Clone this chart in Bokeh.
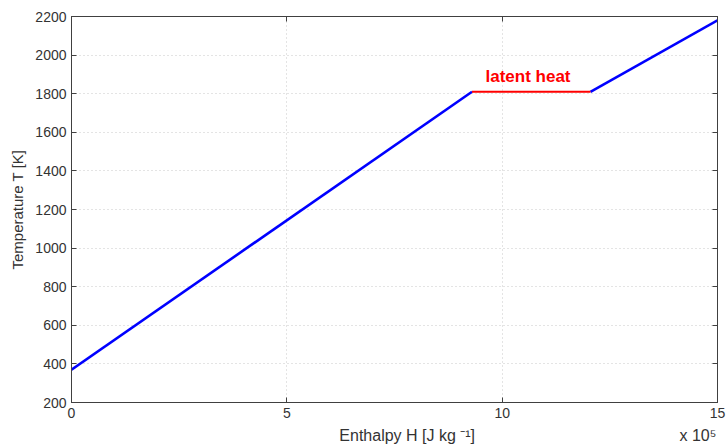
from bokeh.plotting import figure
from bokeh.models import LinearAxis, FixedTicker, Label, Range1d
from bokeh.embed import file_html
from bokeh.resources import INLINE

# Data (enthalpy in units of 1e5 J/kg, temperature in K)
H = [0.0, 9.3, 12.05, 15.0]
T = [370, 1810, 1810, 2180]
x_ticks = [0, 5, 10, 15]
y_ticks = [200, 400, 600, 800, 1000, 1200, 1400, 1600, 1800, 2000, 2200]
x_label = "Enthalpy H [J kg ⁻¹]"
x_scale_label = "x 10⁵"
y_label = "Temperature T [K]"

FONT = "Liberation Sans"
AXC = "#404040"
TXC = "#333333"
NB = "\u00a0"

p = figure(width=726, height=447, output_backend="svg", toolbar_location=None,
           x_range=Range1d(0, 15), y_range=Range1d(200, 2200),
           min_border_left=71, min_border_right=9, min_border_top=16, min_border_bottom=45,
           background_fill_color="white", border_fill_color="white")
p.outline_line_color = AXC
p.outline_line_width = 1

for ax in [p.xaxis[0], p.yaxis[0]]:
    ax.major_tick_in = 5
    ax.major_tick_out = 0
    ax.minor_tick_in = 0
    ax.minor_tick_out = 0
    ax.axis_line_color = AXC
    ax.major_tick_line_color = AXC
    ax.major_label_text_font = FONT
    ax.major_label_text_font_size = "14px"
    ax.major_label_text_color = TXC
    ax.axis_label_text_font = FONT
    ax.axis_label_text_font_style = "normal"
    ax.axis_label_text_color = TXC

p.xaxis[0].ticker = FixedTicker(ticks=x_ticks)
p.yaxis[0].ticker = FixedTicker(ticks=y_ticks)
# x label shifted right of centre, with the "x 10^5" multiplier at the right end
p.xaxis[0].axis_label = NB * 60 + x_label + NB * 46 + x_scale_label
p.yaxis[0].axis_label = y_label
p.xaxis[0].axis_label_text_font_size = "16px"
p.yaxis[0].axis_label_text_font_size = "15px"
p.xaxis[0].major_label_standoff = 5
p.xaxis[0].axis_label_standoff = 6
p.yaxis[0].major_label_standoff = 5
p.yaxis[0].axis_label_standoff = 6

# box axes with inward ticks, no labels
for loc, tk in [("right", y_ticks), ("above", x_ticks)]:
    a = LinearAxis(ticker=FixedTicker(ticks=tk), major_tick_in=5, major_tick_out=0,
                   minor_tick_in=0, minor_tick_out=0, axis_line_color=AXC,
                   major_tick_line_color=AXC, major_label_standoff=0,
                   major_label_overrides={t: "" for t in tk})
    p.add_layout(a, loc)

p.xgrid.ticker = FixedTicker(ticks=x_ticks)
p.ygrid.ticker = FixedTicker(ticks=y_ticks)
for g in [p.xgrid[0], p.ygrid[0]]:
    g.grid_line_color = "#c8c8c8"
    g.grid_line_dash = "1 3"
    g.grid_line_width = 1

# sensible-heat segments (blue) and latent-heat plateau (red)
p.multi_line(xs=[[H[0], H[1]], [H[2], H[3]]], ys=[[T[0], T[1]], [T[2], T[3]]],
             line_color="#0000ff", line_width=2.6)
p.line(H[1:3], T[1:3], line_color="#ff0000", line_width=2.2)

p.add_layout(Label(x=10.6, y=T[1], y_offset=15, text="latent heat", text_align="center",
                   text_baseline="alphabetic", text_color="#ff0000", text_font=FONT,
                   text_font_size="17px", text_font_style="bold"))

open("out.html", "w").write(file_html(p, INLINE))
